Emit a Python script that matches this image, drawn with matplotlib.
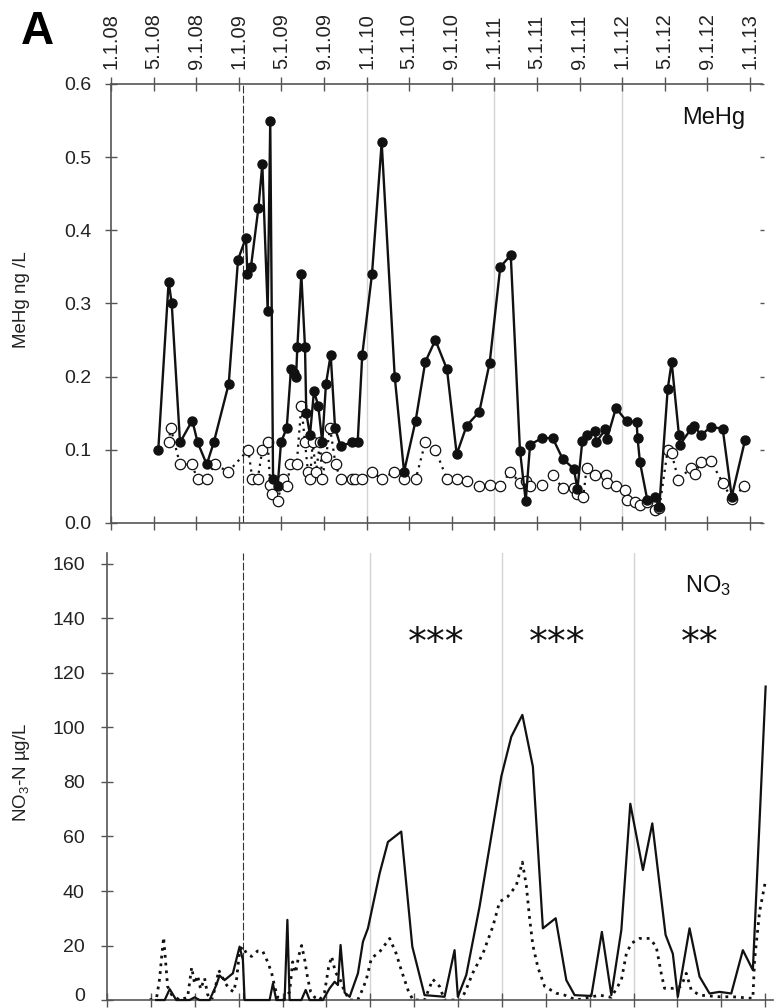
import matplotlib
matplotlib.use("Agg")
import matplotlib.pyplot as plt
from matplotlib.transforms import ScaledTranslation

plt.rcParams['font.family'] = ['Liberation Sans', 'DejaVu Sans']
plt.rcParams['mathtext.default'] = 'regular'

# x values are decimal years
tick_years = [2008 + i / 3 for i in range(16)]
tick_labels = ['1.1.08', '5.1.08', '9.1.08', '1.1.09', '5.1.09', '9.1.09',
               '1.1.10', '5.1.10', '9.1.10', '1.1.11', '5.1.11', '9.1.11',
               '1.1.12', '5.1.12', '9.1.12', '1.1.13']
year_lines = [2010, 2011, 2012]
treatment_start = 2009.03

# MeHg, filled circles (solid line)
mehg_filled_year = [
    2008.370, 2008.451, 2008.475, 2008.540, 2008.636, 2008.678, 2008.749, 2008.804,
    2008.921, 2008.994, 2009.056, 2009.067, 2009.095, 2009.153, 2009.184, 2009.226,
    2009.246, 2009.268, 2009.304, 2009.330, 2009.375, 2009.408, 2009.432, 2009.448,
    2009.458, 2009.489, 2009.518, 2009.528, 2009.557, 2009.588, 2009.622, 2009.653,
    2009.682, 2009.719, 2009.753, 2009.796, 2009.883, 2009.930, 2009.966, 2010.042,
    2010.118, 2010.220, 2010.293, 2010.384, 2010.459, 2010.538, 2010.629, 2010.705,
    2010.783, 2010.882, 2010.963, 2011.046, 2011.128, 2011.200, 2011.245, 2011.279,
    2011.372, 2011.456, 2011.533, 2011.621, 2011.650, 2011.688, 2011.722, 2011.787,
    2011.795, 2011.869, 2011.881, 2011.951, 2012.035, 2012.113, 2012.120, 2012.139,
    2012.197, 2012.257, 2012.290, 2012.356, 2012.387, 2012.444, 2012.452, 2012.536,
    2012.562, 2012.617, 2012.692, 2012.786, 2012.857, 2012.961]
mehg_filled = [
    0.10, 0.33, 0.30, 0.11, 0.14, 0.11, 0.08, 0.11,
    0.19, 0.36, 0.39, 0.34, 0.35, 0.43, 0.49, 0.29,
    0.55, 0.06, 0.05, 0.11, 0.13, 0.21, 0.205, 0.20,
    0.24, 0.34, 0.24, 0.15, 0.12, 0.18, 0.16, 0.11,
    0.19, 0.23, 0.13, 0.105, 0.11, 0.11, 0.23, 0.34,
    0.52, 0.20, 0.07, 0.14, 0.22, 0.25, 0.21, 0.094,
    0.133, 0.152, 0.219, 0.35, 0.366, 0.099, 0.03, 0.107,
    0.116, 0.116, 0.088, 0.074, 0.047, 0.112, 0.12, 0.125,
    0.11, 0.128, 0.115, 0.157, 0.139, 0.138, 0.116, 0.083,
    0.031, 0.036, 0.022, 0.183, 0.22, 0.12, 0.107, 0.128,
    0.133, 0.12, 0.131, 0.129, 0.036, 0.113]

# MeHg, open circles (dotted line)
mehg_open_year = [
    2008.451, 2008.467, 2008.540, 2008.631, 2008.678, 2008.749, 2008.811, 2008.918,
    2009.074, 2009.106, 2009.148, 2009.184, 2009.226, 2009.246, 2009.262, 2009.304,
    2009.344, 2009.380, 2009.401, 2009.453, 2009.489, 2009.518, 2009.541, 2009.557,
    2009.578, 2009.604, 2009.636, 2009.651, 2009.682, 2009.714, 2009.757, 2009.796,
    2009.883, 2009.909, 2009.966, 2010.042, 2010.118, 2010.214, 2010.293, 2010.384,
    2010.459, 2010.538, 2010.629, 2010.705, 2010.783, 2010.882, 2010.963, 2011.046,
    2011.124, 2011.200, 2011.245, 2011.279, 2011.372, 2011.456, 2011.533, 2011.622,
    2011.650, 2011.695, 2011.722, 2011.789, 2011.871, 2011.879, 2011.951, 2012.022,
    2012.035, 2012.100, 2012.139, 2012.197, 2012.257, 2012.290, 2012.356, 2012.387,
    2012.439, 2012.536, 2012.567, 2012.617, 2012.692, 2012.786, 2012.857, 2012.955]
mehg_open = [
    0.11, 0.13, 0.08, 0.08, 0.06, 0.06, 0.08, 0.07,
    0.10, 0.06, 0.06, 0.10, 0.11, 0.052, 0.04, 0.03,
    0.06, 0.05, 0.08, 0.08, 0.16, 0.11, 0.07, 0.06,
    0.11, 0.07, 0.11, 0.06, 0.09, 0.13, 0.08, 0.06,
    0.06, 0.06, 0.06, 0.07, 0.06, 0.07, 0.06, 0.06,
    0.11, 0.10, 0.06, 0.06, 0.058, 0.05, 0.052, 0.05,
    0.07, 0.055, 0.058, 0.05, 0.052, 0.065, 0.048, 0.048,
    0.04, 0.036, 0.075, 0.065, 0.065, 0.055, 0.05, 0.045,
    0.032, 0.028, 0.025, 0.028, 0.018, 0.02, 0.10, 0.095,
    0.059, 0.075, 0.067, 0.083, 0.085, 0.055, 0.033, 0.05]

# NO3-N, solid line
no3_solid_year = [
    2008.374, 2008.438, 2008.476, 2008.526, 2008.627, 2008.665, 2008.703, 2008.779,
    2008.830, 2008.855, 2008.893, 2008.956, 2009.007, 2009.032, 2009.045, 2009.235,
    2009.260, 2009.286, 2009.349, 2009.370, 2009.387, 2009.476, 2009.509, 2009.539,
    2009.640, 2009.691, 2009.729, 2009.754, 2009.774, 2009.805, 2009.843, 2009.906,
    2009.944, 2009.982, 2010.071, 2010.134, 2010.235, 2010.319, 2010.412, 2010.564,
    2010.640, 2010.665, 2010.729, 2010.830, 2010.995, 2011.071, 2011.155, 2011.235,
    2011.311, 2011.408, 2011.489, 2011.552, 2011.679, 2011.759, 2011.831, 2011.907,
    2011.975, 2012.071, 2012.142, 2012.243, 2012.298, 2012.336, 2012.425, 2012.501,
    2012.577, 2012.653, 2012.742, 2012.830, 2012.906, 2013.003]
no3_solid = [
    0, 0, 4, 0, 0, 1, 0, 0,
    5.5, 9, 7.3, 9.8, 19.6, 14.7, 0, 0,
    6, 0, 0, 29.4, 0, 0, 3.7, 0,
    0, 4.3, 6.7, 5.5, 20.2, 2.7, 1.2, 9.8,
    21.4, 26.3, 46.5, 58, 61.8, 19.6, 1.8, 1.2,
    18.3, 1.2, 9.2, 34.3, 82, 96.6, 104.6, 85.6,
    26.3, 30, 7.3, 1.8, 1.5, 25, 1.8, 25.7,
    72, 47.7, 64.8, 23.9, 17, 1.2, 26.3, 8.6,
    2.4, 3, 2.4, 18.3, 11, 115]

# NO3-N, dotted line
no3_dot_year = [
    2008.324, 2008.377, 2008.400, 2008.415, 2008.430, 2008.445, 2008.460, 2008.490,
    2008.551, 2008.612, 2008.643, 2008.665, 2008.688, 2008.711, 2008.741, 2008.764,
    2008.795, 2008.825, 2008.848, 2008.870, 2008.901, 2008.931, 2008.962, 2008.985,
    2009.007, 2009.030, 2009.061, 2009.098, 2009.144, 2009.182, 2009.220, 2009.250,
    2009.273, 2009.296, 2009.341, 2009.387, 2009.410, 2009.433, 2009.455, 2009.478,
    2009.501, 2009.524, 2009.547, 2009.577, 2009.615, 2009.653, 2009.683, 2009.706,
    2009.736, 2009.767, 2009.805, 2009.843, 2009.904, 2009.942, 2009.970, 2010.008,
    2010.071, 2010.147, 2010.197, 2010.235, 2010.286, 2010.324, 2010.412, 2010.475,
    2010.526, 2010.564, 2010.691, 2010.729, 2010.779, 2010.855, 2010.931, 2010.982,
    2011.045, 2011.109, 2011.155, 2011.185, 2011.210, 2011.235, 2011.273, 2011.324,
    2011.413, 2011.476, 2011.565, 2011.742, 2011.831, 2011.907, 2011.945, 2011.983,
    2012.046, 2012.122, 2012.172, 2012.210, 2012.235, 2012.298, 2012.362, 2012.400,
    2012.438, 2012.501, 2012.653, 2012.754, 2012.906, 2012.919, 2012.957, 2013.003]
no3_dot = [
    0, 1, 8, 16, 23, 14, 5, 2,
    0, 1, 12, 6, 9, 4, 8, 2,
    0, 5, 11, 9, 6, 4, 3, 8,
    18, 19.6, 17, 16, 18, 18, 14, 10,
    5, 1, 0, 3, 14, 10, 16, 20,
    15, 8, 3, 1, 0, 3, 12, 16,
    10, 8, 3, 0, 0, 4, 7.6, 15.3,
    17.7, 22.6, 17, 11, 3.7, 0, 0, 7.6,
    5, 0, 0, 4, 10, 17, 27, 36,
    38, 42, 50.6, 42, 30, 20, 12, 5,
    2.5, 1.8, 0, 1.8, 1, 7.3, 17, 20.8,
    22.6, 22.6, 19.6, 9.8, 4.3, 4.3, 5, 9.8,
    3.7, 1.8, 1.2, 1.2, 0.6, 14.7, 32.4, 44]

spine_col = '#555555'
label_col = '#222222'

fig = plt.figure(figsize=(7.79, 10.08), dpi=100)
ax1 = fig.add_axes([0.1425, 0.4812, 0.8357, 0.4355])
ax2 = fig.add_axes([0.1374, 0.0079, 0.8549, 0.4435])

# --- MeHg panel ---
for yl in year_lines:
    ax1.axvline(yl, color='#d4d4d4', lw=1.0, zorder=0)
ax1.axvline(treatment_start, color='#333333', lw=0.8, dashes=(7, 2), zorder=1)

ax1.plot(mehg_open_year, mehg_open, color='#111111', lw=1.6,
         linestyle=(0, (1, 2.2)), marker='o', ms=7.5, mfc='white',
         mec='#111111', mew=0.9, zorder=2)
ax1.plot(mehg_filled_year, mehg_filled, color='#111111', lw=1.7,
         marker='o', ms=6.5, mfc='#111111', mec='#111111', zorder=3)

ax1.set_xlim(2008, 2013.094)
ax1.set_ylim(0, 0.6)
ax1.set_yticks([0, 0.1, 0.2, 0.3, 0.4, 0.5, 0.6])
ax1.set_yticklabels(['0.0', '0.1', '0.2', '0.3', '0.4', '0.5', '0.6'])
ax1.set_xticks(tick_years)
ax1.set_xticklabels(tick_labels, rotation=90)
ax1.xaxis.set_ticks_position('both')
ax1.tick_params(axis='x', which='both', direction='inout', length=10, width=1.0,
                color=spine_col, top=True, bottom=True,
                labeltop=True, labelbottom=False, labelsize=14.5,
                labelcolor=label_col, pad=6)
ax1.tick_params(axis='y', direction='inout', length=8, width=1.0,
                color=spine_col, labelsize=14, labelcolor=label_col, pad=10)
ax1.tick_params(axis='y', which='both', right=True, labelright=False)
for t in ax1.yaxis.get_major_ticks():
    t.tick2line.set_markersize(3)
for s in ['left', 'bottom', 'top']:
    ax1.spines[s].set_color(spine_col)
    ax1.spines[s].set_linewidth(1.2)
ax1.spines['right'].set_visible(False)
ax1.text(0.925, 0.922, 'MeHg', transform=ax1.transAxes, fontsize=17,
         ha='center', va='center', color='#111111')

# --- NO3 panel ---
for yl in year_lines:
    ax2.axvline(yl, color='#d4d4d4', lw=1.0, zorder=0)
ax2.axvline(treatment_start, color='#333333', lw=0.8, dashes=(7, 2), zorder=1)

ax2.plot(no3_dot_year, no3_dot, color='#111111', lw=2.0,
         linestyle=(0, (1, 1.8)), zorder=2)
ax2.plot(no3_solid_year, no3_solid, color='#111111', lw=1.6, zorder=3,
         clip_on=False)

ax2.set_xlim(2008, 2013.059)
ax2.set_ylim(0, 164)
ax2.set_yticks(range(0, 161, 20))
ax2.set_xticks(tick_years)
ax2.set_xticklabels([])
ax2.tick_params(axis='x', direction='inout', length=10, width=1.0,
                color=spine_col)
ax2.tick_params(axis='y', direction='inout', length=8, width=1.0,
                color=spine_col, labelsize=14, labelcolor=label_col, pad=12)
for s in ['left', 'bottom']:
    ax2.spines[s].set_color(spine_col)
    ax2.spines[s].set_linewidth(1.2)
ax2.spines['top'].set_visible(False)
ax2.spines['right'].set_visible(False)

# nudge the "0" label up so it is not cut by the figure edge
fig.canvas.draw()
zero_lbl = ax2.get_yticklabels()[0]
zero_lbl.set_transform(zero_lbl.get_transform()
                       + ScaledTranslation(0, 6 / 100, fig.dpi_scale_trans))

ax2.text(0.903, 0.928, 'NO$_3$', transform=ax2.transAxes, fontsize=17,
         ha='center', va='center', color='#111111')
for xs, star in [(2010.5, '***'), (2011.42, '***'), (2012.5, '**')]:
    ax2.text(xs, 130.5, star, fontsize=27, ha='center', va='center',
             family='DejaVu Sans', color='#111111')

# axis titles and panel letter
fig.text(22 / 779, 1 - 300 / 1008, 'MeHg ng /L', rotation=90, fontsize=13.5,
         ha='center', va='center', color=label_col)
fig.text(22 / 779, 1 - 772 / 1008, 'NO$_3$-N µg/L', rotation=90, fontsize=13.5,
         ha='center', va='center', color=label_col)
fig.text(37 / 779, 1 - 32 / 1008, 'A', fontsize=33, fontweight='bold',
         ha='center', va='center', color='black')

fig.savefig('out.png', dpi=100)
